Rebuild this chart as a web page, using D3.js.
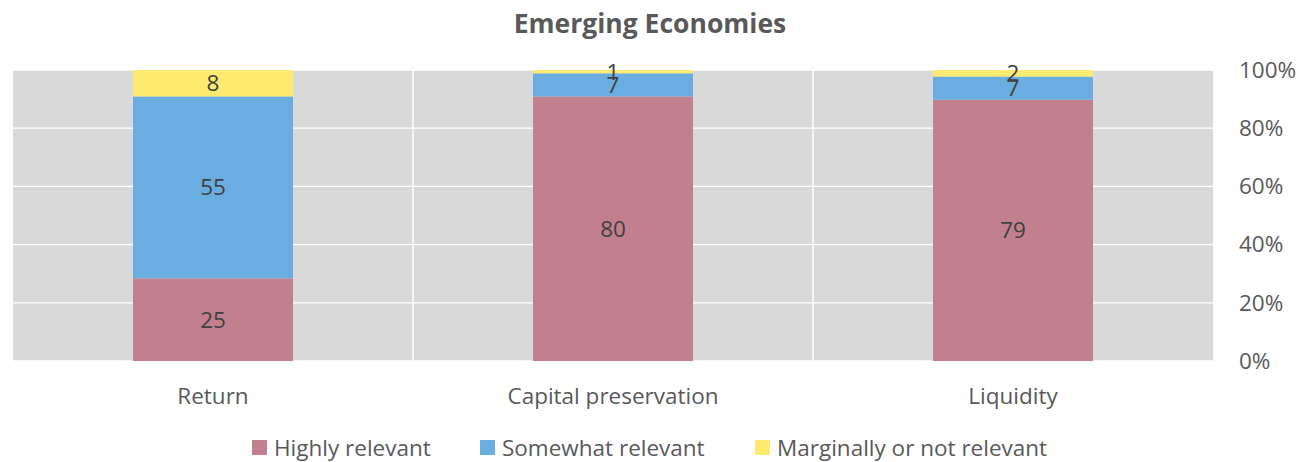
<!DOCTYPE html>
<html><head><meta charset="utf-8">
<script src="https://cdn.jsdelivr.net/npm/d3@7"></script>
<style>body{margin:0;background:#fff;} text{font-family:"Open Sans",sans-serif;}</style>
</head><body>
<svg id="c" width="1303" height="462"></svg>
<script>
const title = "Emerging Economies";
const categories = ["Return", "Capital preservation", "Liquidity"];
const seriesNames = ["Highly relevant", "Somewhat relevant", "Marginally or not relevant"];
const highly = [25, 80, 79];
const somewhat = [55, 7, 7];
const marginal = [8, 1, 2];
const yTicks = [0, 0.2, 0.4, 0.6, 0.8, 1.0];
const colors = ["#C2808F", "#6AADE0", "#FFEA70"];

const svg = d3.select("#c");
const L = 13, R = 1213, T = 70, B = 361;
const FS = 22.5;
const x = d3.scaleBand().domain(categories).range([L, R]).paddingInner(0).paddingOuter(0);
const y = d3.scaleLinear().domain([0, 1]).range([B, T]);

const rows = categories.map((c, i) => ({cat: c, h: highly[i], s: somewhat[i], m: marginal[i]}));
const stack = d3.stack().keys(["h", "s", "m"]).offset(d3.stackOffsetExpand);
const series = stack(rows);

// background
svg.append("rect").attr("x", L).attr("y", T).attr("width", R - L).attr("height", B - T).attr("fill", "#D9D9D9");
// horizontal gridlines
svg.selectAll(".hg").data(yTicks).enter().append("line")
  .attr("x1", L).attr("x2", R).attr("y1", d => y(d)).attr("y2", d => y(d))
  .attr("stroke", "#fff").attr("stroke-width", 1.3);
// vertical gridlines at category boundaries
svg.selectAll(".vg").data(categories.slice(1)).enter().append("line")
  .attr("x1", d => x(d)).attr("x2", d => x(d)).attr("y1", T).attr("y2", B)
  .attr("stroke", "#fff").attr("stroke-width", 1.5);

const barW = x.bandwidth() * 0.4;
const g = svg.append("g");
series.forEach((s, si) => {
  g.selectAll(".b" + si).data(s).enter().append("rect")
    .attr("x", d => x(d.data.cat) + (x.bandwidth() - barW) / 2)
    .attr("width", barW)
    .attr("y", d => y(d[1]))
    .attr("height", d => y(d[0]) - y(d[1]))
    .attr("fill", colors[si]);
});
series.forEach((s, si) => {
  g.selectAll(".l" + si).data(s).enter().append("text")
    .attr("x", d => x(d.data.cat) + x.bandwidth() / 2)
    .attr("y", d => (y(d[0]) + y(d[1])) / 2)
    .attr("dy", "0.36em")
    .attr("text-anchor", "middle")
    .attr("font-size", FS)
    .attr("fill", "#404040")
    .text(d => d.data[s.key]);
});

// right axis
const ax = svg.append("g").attr("transform", `translate(${R + 26},0)`)
  .call(d3.axisRight(y).tickValues(yTicks).tickFormat(d3.format(".0%")).tickSize(0).tickPadding(0));
ax.select(".domain").remove();
ax.selectAll("text").attr("font-size", FS).attr("fill", "#595959").attr("font-family", "Open Sans");

// x labels
const xa = svg.append("g").attr("transform", `translate(0,${B})`)
  .call(d3.axisBottom(x).tickSize(0).tickPadding(27));
xa.select(".domain").remove();
xa.selectAll("text").attr("font-size", FS).attr("fill", "#595959").attr("font-family", "Open Sans");

// title
svg.append("text").attr("x", 650).attr("y", 33).attr("text-anchor", "middle")
  .attr("font-size", 26.5).attr("font-weight", "bold").attr("fill", "#595959").text(title);

// legend
const legX = [252, 480, 755];
const leg = svg.selectAll(".lg").data(seriesNames).enter().append("g")
  .attr("transform", (d, i) => `translate(${legX[i]},447.5)`);
leg.append("rect").attr("x", 0).attr("y", -7.5).attr("width", 15).attr("height", 15).attr("fill", (d, i) => colors[i]);
leg.append("text").attr("x", 22).attr("dy", "0.36em").attr("font-size", FS).attr("fill", "#595959").text(d => d);
</script>
</body></html>
